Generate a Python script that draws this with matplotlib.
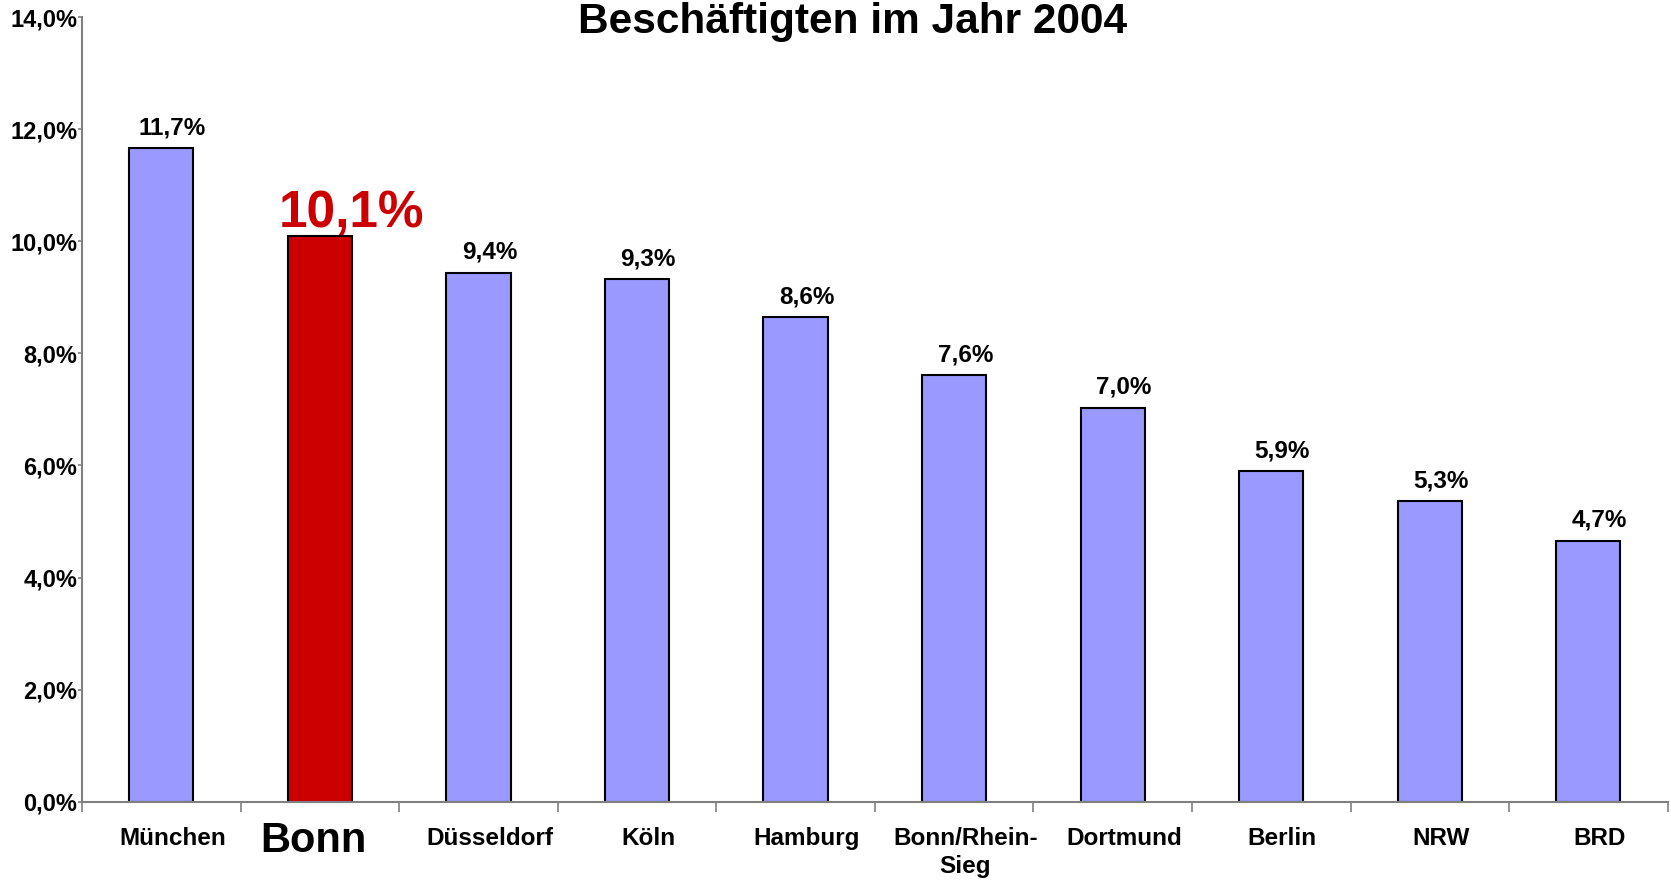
import matplotlib.pyplot as plt
import numpy as np

plt.rcParams['font.family'] = ['Liberation Sans', 'DejaVu Sans']
plt.rcParams['font.weight'] = 'bold'

# DATA ########################################################################

regions = ["München", "Bonn", "Düsseldorf", "Köln", "Hamburg",
           "Bonn/Rhein-\nSieg", "Dortmund", "Berlin", "NRW", "BRD"]
shares = [11.66, 10.1, 9.44, 9.32, 8.64, 7.61, 7.03, 5.9, 5.36, 4.66]
share_labels = ["11,7%", "10,1%", "9,4%", "9,3%", "8,6%",
                "7,6%", "7,0%", "5,9%", "5,3%", "4,7%"]
highlight = "Bonn"
y_ticks = [0, 2, 4, 6, 8, 10, 12, 14]

BLUE = "#9999FF"
RED = "#CC0000"
GREY = "#808080"

# PLOT ########################################################################

fig = plt.figure(figsize=(16.71, 8.81), dpi=100)
ax = fig.add_axes([0.0491, 0.09, 0.9489, 0.8907])

x = np.arange(len(regions))
colors = [RED if r == highlight else BLUE for r in regions]
ax.bar(x, shares, width=0.405, color=colors, edgecolor="black", linewidth=1.5)

ax.set_xlim(-0.5, len(regions) - 0.5)
ax.set_ylim(0, 14)

# y axis
ax.set_yticks(y_ticks)
ax.set_yticklabels([f"{t:.1f}%".replace(".", ",") for t in y_ticks])
ax.tick_params(axis="y", direction="out", length=3, width=1.2, color=GREY,
               labelsize=17, pad=0.5)

# x axis: tick marks between categories, labels drawn by hand
ax.set_xticks(np.arange(-0.5, len(regions)), minor=False)
ax.set_xticklabels([])
ax.tick_params(axis="x", direction="out", length=7, width=1.2, color=GREY)

for side in ("top", "right"):
    ax.spines[side].set_visible(False)
for side in ("left", "bottom"):
    ax.spines[side].set_color(GREY)
    ax.spines[side].set_linewidth(1.5)

for i, (name, v, lab) in enumerate(zip(regions, shares, share_labels)):
    if name == highlight:
        ax.annotate(lab, xy=(i, v), xytext=(23, 6.5), textcoords="offset points",
                    ha="center", va="baseline", fontsize=37, color=RED,
                    fontweight="bold")
        ax.annotate(name, xy=(i, 0), xycoords=("data", "axes fraction"),
                    xytext=(-5, -28), textcoords="offset points",
                    ha="center", va="center", fontsize=30, fontweight="bold")
    else:
        ax.annotate(lab, xy=(i, v), xytext=(8, 10), textcoords="offset points",
                    ha="center", va="baseline", fontsize=17.5, fontweight="bold")
        ax.annotate(name, xy=(i, 0), xycoords=("data", "axes fraction"),
                    xytext=(8, -18), textcoords="offset points",
                    ha="center", va="top", fontsize=17.5, fontweight="bold",
                    linespacing=1.3)

fig.text(0.5105, 0.962, "Beschäftigten im Jahr 2004", ha="center",
         va="baseline", fontsize=30.5, fontweight="bold")

plt.savefig("out.png", dpi=100)
